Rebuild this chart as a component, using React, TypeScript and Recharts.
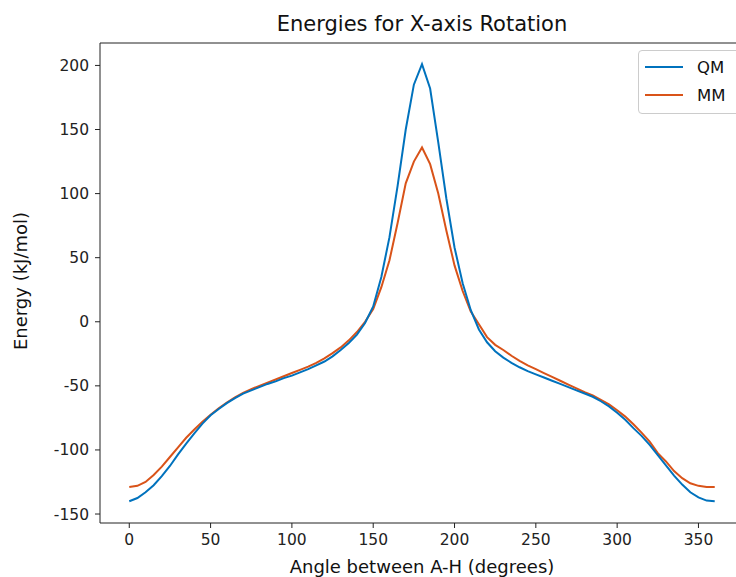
import { LineChart, Line, XAxis, YAxis, ReferenceLine } from 'recharts';

const angles = [
    0, 5, 10, 15, 20, 25, 30, 35, 40, 45, 50, 55, 60, 65, 70, 75, 80, 85, 90, 95,
    100, 105, 110, 115, 120, 125, 130, 135, 140, 145, 150, 155, 160, 165, 170, 175,
    180, 185, 190, 195, 200, 205, 210, 215, 220, 225, 230, 235, 240, 245, 250, 255,
    260, 265, 270, 275, 280, 285, 290, 295, 300, 305, 310, 315, 320, 325, 330, 335,
    340, 345, 350, 355, 360,
];

const qmEnergy = [
    -140, -137.5, -133, -127.5, -120.5, -112.5, -103.5, -95, -87, -79.5, -73, -68, -63.5, -59.5, -56, -53.5, -51, -48.5, -46.5, -44,
    -42, -39.5, -37, -34, -31, -27, -22, -16.5, -10, -1, 12, 35, 66, 106, 150, 185,
    201, 182, 140, 96, 58, 30, 9, -6, -16, -23, -28, -32, -35.5, -38.5, -41, -43.5,
    -46, -48.5, -51, -53.5, -56, -58.5, -62, -66, -71, -76.5, -83, -89, -96, -104, -112, -120,
    -127, -133, -137, -139.5, -140,
];

const mmEnergy = [
    -129, -128, -125, -119.5, -113, -105.5, -98, -90.5, -84, -78, -72.5, -67.5, -63, -59, -55.5, -52.5, -50, -47.5, -45, -42.5,
    -40, -37.5, -35, -32, -28.5, -24.5, -20, -14.5, -8, 0, 10, 27, 48, 77, 108, 125,
    136, 123, 100, 71, 44, 24, 8, -2, -12, -18, -22, -26.5, -30.5, -34, -37, -40,
    -43, -46, -49, -52, -55, -57.5, -61, -64.5, -69, -74, -80, -86.5, -93.5, -102.5, -109, -116.5,
    -122, -126, -128, -129, -129,
];

const xTicks = [0, 50, 100, 150, 200, 250, 300, 350];
const yTicks = [-150, -100, -50, 0, 50, 100, 150, 200];

const data = angles.map((a, i) => ({ angle: a, QM: qmEnergy[i], MM: mmEnergy[i] }));

const QM_COLOR = '#0072BD';
const MM_COLOR = '#D95319';
const FONT = '"DejaVu Sans", sans-serif';

const App = () => {
    return (
        <div style={{ position: 'fixed', left: 0, top: 0, width: 736, height: 577, overflow: 'hidden', background: '#fff', fontFamily: FONT }}>
            <LineChart width={760} height={577} data={data} margin={{ top: 43, right: 16, bottom: 0, left: 0 }}>
                <XAxis
                    dataKey="angle"
                    type="number"
                    domain={[-18, 378]}
                    ticks={xTicks}
                    height={54}
                    stroke="#222"
                    tickSize={5}
                    tickMargin={6}
                    tick={{ fill: '#222', fontSize: 15.5, fontFamily: FONT }}
                    allowDataOverflow
                />
                <YAxis
                    type="number"
                    domain={[-157, 217.5]}
                    ticks={yTicks}
                    width={100}
                    stroke="#222"
                    tickSize={5}
                    tickMargin={6}
                    tick={{ fill: '#222', fontSize: 15.5, fontFamily: FONT }}
                    allowDataOverflow
                />
                <ReferenceLine y={217.5} stroke="#222" strokeWidth={1} ifOverflow="visible" />
                <Line type="linear" dataKey="MM" stroke={MM_COLOR} strokeWidth={2} dot={false} isAnimationActive={false} />
                <Line type="linear" dataKey="QM" stroke={QM_COLOR} strokeWidth={2} dot={false} isAnimationActive={false} />
            </LineChart>

            <div style={{ position: 'absolute', left: 0, width: 844, top: 11, textAlign: 'center', fontSize: 21, lineHeight: '26px', color: '#111' }}>
                Energies for X-axis Rotation
            </div>
            <div style={{ position: 'absolute', left: 0, width: 844, top: 556, textAlign: 'center', fontSize: 18, lineHeight: '22px', color: '#111' }}>
                Angle between A-H (degrees)
            </div>
            <div style={{ position: 'absolute', left: 20, top: 281, transform: 'translate(-50%, -50%) rotate(-90deg)', fontSize: 18, color: '#111', whiteSpace: 'nowrap' }}>
                Energy (kJ/mol)
            </div>

            <div style={{ position: 'absolute', left: 638, top: 50, width: 110, height: 62, border: '1px solid #ccc', borderRadius: 4, background: '#fff' }}>
                {[{ name: 'QM', color: QM_COLOR }, { name: 'MM', color: MM_COLOR }].map((s, i) => (
                    <div key={s.name} style={{ position: 'absolute', left: 6, top: 6 + i * 28, height: 20, display: 'flex', alignItems: 'center' }}>
                        <div style={{ width: 38, height: 2, background: s.color }} />
                        <span style={{ marginLeft: 14, fontSize: 16.5, color: '#111' }}>{s.name}</span>
                    </div>
                ))}
            </div>
        </div>
    );
};

export default App;
